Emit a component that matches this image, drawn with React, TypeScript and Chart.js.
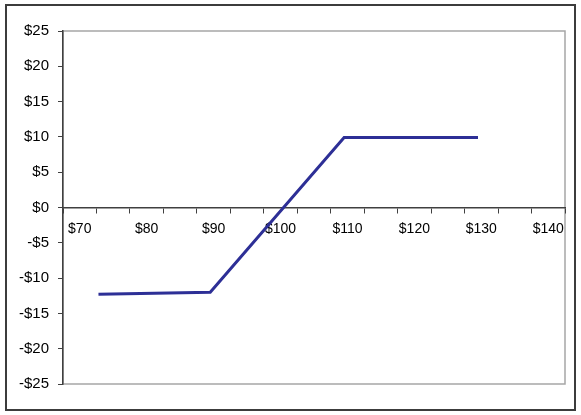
import { useEffect, useRef } from 'react';
import { Chart, registerables } from 'chart.js';

Chart.register(...registerables);

// price categories along the x axis ($70 .. $140, every $5)
const priceCategories = [70, 75, 80, 85, 90, 95, 100, 105, 110, 115, 120, 125, 130, 135, 140];
// payoff line
const stockPrices = [72.8, 89.5, 109.5, 129.5];
const profitLoss = [-12.3, -12.0, 9.9, 9.9];
// y axis ticks
const yTicks = [-25, -20, -15, -10, -5, 0, 5, 10, 15, 20, 25];

const money = (v: number) => (v < 0 ? '-$' + Math.abs(v) : '$' + v);

const frame = {
  id: 'frame',
  beforeDraw(chart: Chart) {
    const { ctx, chartArea } = chart;
    ctx.save();
    ctx.fillStyle = '#fff';
    ctx.fillRect(0, 0, chart.width, chart.height);
    ctx.strokeStyle = '#3c3c3c';
    ctx.lineWidth = 2;
    ctx.strokeRect(6, 5, 569, 405);
    ctx.strokeStyle = '#a6a6a6';
    ctx.lineWidth = 1.5;
    ctx.strokeRect(chartArea.left, chartArea.top, chartArea.right - chartArea.left, chartArea.bottom - chartArea.top);
    ctx.restore();
  },
};

export default function App() {
  const canvasRef = useRef<HTMLCanvasElement>(null);

  useEffect(() => {
    if (!canvasRef.current) return;
    const half = (priceCategories[1] - priceCategories[0]) / 2;
    const chart = new Chart(canvasRef.current, {
      type: 'line',
      data: {
        labels: priceCategories.map((p) => '$' + p),
        datasets: [
          {
            data: stockPrices.map((x, i) => ({ x, y: profitLoss[i] })),
            xAxisID: 'xData',
            yAxisID: 'y',
            borderColor: '#2d2f96',
            borderWidth: 3,
            pointRadius: 0,
            tension: 0,
            fill: false,
          },
        ],
      },
      options: {
        responsive: false,
        animation: false,
        layout: { padding: { left: 0, top: 31, right: 16, bottom: 31 } },
        plugins: { legend: { display: false }, tooltip: { enabled: false } },
        scales: {
          x: {
            type: 'category',
            position: { y: 0 } as any,
            offset: true,
            grid: {
              drawOnChartArea: false,
              drawTicks: true,
              tickLength: 5,
              offset: true,
              color: '#404040',
            },
            border: { display: true, color: '#404040', width: 1.5 },
            ticks: {
              autoSkip: false,
              maxRotation: 0,
              padding: 8,
              color: '#000',
              font: { family: 'Liberation Sans, Arial', size: 14 },
              callback: (_v, i) => (i % 2 === 0 ? '$' + priceCategories[i] : ''),
            },
          },
          xData: {
            type: 'linear',
            display: false,
            min: priceCategories[0] - half,
            max: priceCategories[priceCategories.length - 1] + half,
          },
          y: {
            type: 'linear',
            position: 'left',
            min: yTicks[0],
            max: yTicks[yTicks.length - 1],
            afterFit: (scale) => {
              scale.width = 63;
            },
            afterBuildTicks: (scale) => {
              scale.ticks = yTicks.map((value) => ({ value }));
            },
            grid: { drawOnChartArea: false, tickLength: 5, color: '#404040' },
            border: { display: true, color: '#404040', width: 1.5 },
            ticks: {
              padding: 9,
              color: '#000',
              font: { family: 'Liberation Sans, Arial', size: 15 },
              callback: (v) => money(Number(v)),
            },
          },
        },
      },
      plugins: [frame],
    });
    return () => {
      chart.destroy();
    };
  }, []);

  return (
    <div style={{ position: 'absolute', left: 0, top: 0, width: 581, height: 415, background: '#fff' }}>
      <canvas ref={canvasRef} width={581} height={415}></canvas>
    </div>
  );
}
